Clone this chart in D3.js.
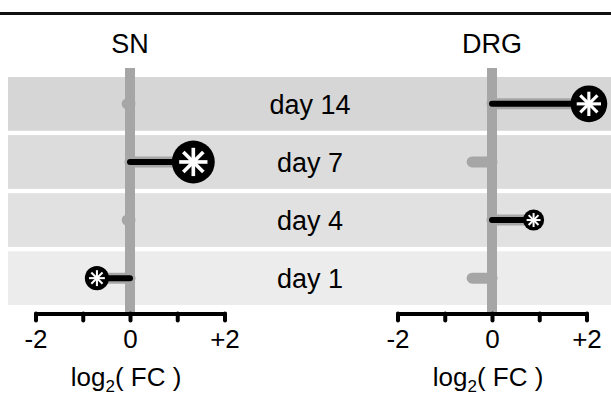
<!DOCTYPE html>
<html>
<head>
<meta charset="utf-8">
<script src="https://cdn.jsdelivr.net/npm/d3@7"></script>
<style>
  body { margin: 0; background: #fff; }
  svg { display: block; font-family: "Liberation Sans", Arial, sans-serif; }
</style>
</head>
<body>
<div id="chart"></div>
<script>
const days = ['day 14', 'day 7', 'day 4', 'day 1'];
const tissues = ['SN', 'DRG'];
// log2 fold change per day, in the order of `days`
const snFC = [-0.06, 1.34, -0.06, -0.7];
const drgFC = [2.05, -0.42, 0.88, -0.42];
// -log10 p for the significant points, null when not significant
const snSig = [null, 9.5, null, 3.0];
const drgSig = [7.0, null, 2.3, null];
const tickValues = [-2, -1, 0, 1, 2];
const tickLabels = ['-2', '', '0', '', '+2'];

const bandColors = ['#d6d6d6', '#dcdcdc', '#e1e1e1', '#ececec'];
const width = 611, height = 397;

const svg = d3.select('#chart').append('svg')
  .attr('width', width)
  .attr('height', height);

svg.append('line')
  .attr('x1', 0).attr('x2', width)
  .attr('y1', 13.5).attr('y2', 13.5)
  .attr('stroke', '#111').attr('stroke-width', 3);

const y = d3.scaleBand()
  .domain(days)
  .range([77, 305])
  .paddingInner(0.075)
  .paddingOuter(0);

// background bands across both panels
svg.selectAll('.band')
  .data(days)
  .enter()
  .append('rect')
  .attr('x', 8)
  .attr('y', d => y(d))
  .attr('width', width - 8)
  .attr('height', y.bandwidth())
  .attr('fill', (d, i) => bandColors[i]);

svg.selectAll('.dayLabel')
  .data(days)
  .enter()
  .append('text')
  .attr('x', 310)
  .attr('y', d => y(d) + y.bandwidth() / 2 + 10)
  .attr('text-anchor', 'middle')
  .style('font-size', '27px')
  .attr('fill', '#000')
  .text(d => d);

const r = d3.scaleSqrt().domain([0, 10]).range([0, 22]);
const axisY = 313.5;

function drawPanel(name, fc, sig, zeroX) {
  const x = d3.scaleLinear().domain([-2, 2]).range([zeroX - 94.5, zeroX + 94.5]);
  const g = svg.append('g');

  g.append('text')
    .attr('x', x(0))
    .attr('y', 53)
    .attr('text-anchor', 'middle')
    .style('font-size', '27px')
    .attr('fill', '#000')
    .text(name);

  g.append('line')
    .attr('x1', x(0)).attr('x2', x(0))
    .attr('y1', 68).attr('y2', axisY)
    .attr('stroke', '#a6a6a6').attr('stroke-width', 10);

  const rows = days.map((d, i) => ({ day: d, v: fc[i], s: sig[i] }));

  // grey stem under everything
  g.selectAll('.stem')
    .data(rows)
    .enter()
    .append('line')
    .attr('x1', x(0))
    .attr('x2', d => x(d.v))
    .attr('y1', d => y(d.day) + y.bandwidth() / 2)
    .attr('y2', d => y(d.day) + y.bandwidth() / 2)
    .attr('stroke', '#a6a6a6')
    .attr('stroke-width', 11)
    .attr('stroke-linecap', 'round');

  const sigRows = rows.filter(d => d.s != null);

  g.selectAll('.blackStem')
    .data(sigRows)
    .enter()
    .append('line')
    .attr('x1', x(0))
    .attr('x2', d => x(d.v))
    .attr('y1', d => y(d.day) + y.bandwidth() / 2)
    .attr('y2', d => y(d.day) + y.bandwidth() / 2)
    .attr('stroke', '#000')
    .attr('stroke-width', 6)
    .attr('stroke-linecap', 'round');

  const dots = g.selectAll('.dot')
    .data(sigRows)
    .enter()
    .append('g')
    .attr('transform', d => `translate(${x(d.v)},${y(d.day) + y.bandwidth() / 2})`);

  dots.append('circle')
    .attr('r', d => r(d.s))
    .attr('fill', '#000');

  // white asterisk, 8 spokes
  dots.each(function(d) {
    const rad = r(d.s) * 0.66;
    const sw = Math.max(2, r(d.s) * 0.17);
    for (let k = 0; k < 4; k++) {
      const a = k * Math.PI / 4;
      d3.select(this).append('line')
        .attr('x1', -rad * Math.sin(a)).attr('y1', -rad * Math.cos(a))
        .attr('x2', rad * Math.sin(a)).attr('y2', rad * Math.cos(a))
        .attr('stroke', '#fff')
        .attr('stroke-width', sw);
    }
  });

  const axis = d3.axisBottom(x)
    .tickValues(tickValues)
    .tickSize(7)
    .tickSizeOuter(0)
    .tickFormat((d, i) => tickLabels[i]);

  const ax = g.append('g')
    .attr('transform', `translate(0,${axisY})`)
    .call(axis);

  ax.select('.domain')
    .attr('stroke', '#000')
    .attr('stroke-width', 4)
    .attr('stroke-linecap', 'round');
  ax.selectAll('.tick line')
    .attr('stroke', '#000')
    .attr('stroke-width', 4)
    .attr('stroke-linecap', 'round');
  ax.selectAll('.tick text')
    .attr('y', 34.5)
    .attr('dy', null)
    .attr('fill', '#000')
    .style('font-size', '26px')
    .style('font-family', '"Liberation Sans", Arial, sans-serif');

  const lbl = g.append('text')
    .attr('x', x(0) - 4)
    .attr('y', 386)
    .attr('text-anchor', 'middle')
    .style('font-size', '26px')
    .attr('fill', '#000');
  lbl.append('tspan').text('log');
  lbl.append('tspan').attr('dy', 6).style('font-size', '17px').text('2');
  lbl.append('tspan').attr('dy', -6).text('( FC )');
}

drawPanel(tissues[0], snFC, snSig, 130);
drawPanel(tissues[1], drgFC, drgSig, 492);
</script>
</body>
</html>
